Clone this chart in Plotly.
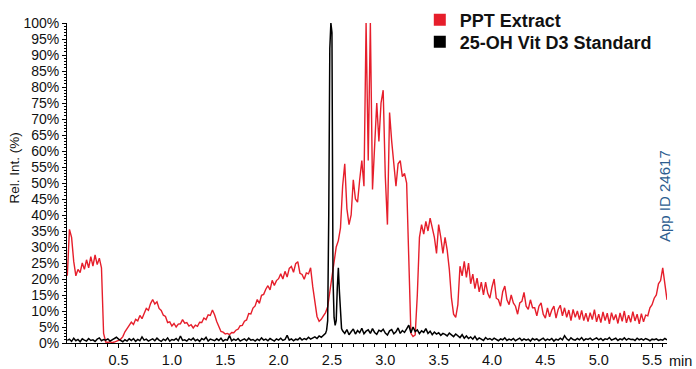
import plotly.graph_objects as go

# ---------------- data ----------------
SAMPLE_STEP = 0.02  # min, acquisition interval

# PPT Extract, relative intensity (%), one value per SAMPLE_STEP from 0.02 to 5.64 min
ppt_extract = [
    21, 35.5, 33, 25.5, 21, 23, 22, 25, 23, 26,
    23.5, 27, 24, 27.5, 24.5, 26.5, 23.5, 3, 0.3, 0.2,
    0.4, 0.1, 0.3, 0.5, 0.8, 1.2, 2, 3.5, 4.7, 5.5,
    6.5, 5.8, 7.4, 6.9, 8.6, 7.6, 9.2, 10.8, 10.2, 12.3,
    13.6, 12.2, 12.9, 10.8, 10.2, 8.7, 8.3, 6.4, 6.6, 5.3,
    6.1, 5.0, 5.9, 6.0, 7.3, 6.2, 6.4, 5.3, 5.7, 4.7,
    5.6, 5.2, 6.5, 6.4, 7.8, 7.3, 8.8, 8.6, 10.3, 8.8,
    6.7, 5.1, 3.6, 3.4, 2.8, 3.0, 2.6, 3.3, 3.2, 4.0,
    4.3, 5.4, 5.5, 6.8, 7.2, 9.2, 9.1, 10.9, 11.6, 13.6,
    12.4, 14.9, 15.2, 16.8, 17.9, 16.6, 19.6, 18.0, 19.5, 20.1,
    21.6, 20.0, 22.4, 20.6, 23.3, 23.9, 22.1, 24.8, 25.4, 21.8,
    21.4, 19.9, 21.9, 21.6, 23.5, 17.6, 12, 8.3, 6.8, 7.4,
    8.5, 9.5, 11.3, 16, 21, 26, 30, 32, 36, 49,
    56, 42, 37, 40, 51, 45, 44, 51, 57, 49,
    100, 57, 100, 48, 62, 75, 63, 75, 79, 52,
    37, 72, 63, 55, 49, 56, 57, 52, 53, 50,
    28, 3, 2, 2.5, 15, 33, 37, 34, 38, 35,
    39, 36, 33, 28, 37, 33, 28, 33, 29, 23,
    14, 9, 8, 12, 24, 21, 25.5, 20.5, 25, 18.5,
    21.5, 17, 20.3, 16, 19, 15, 19, 15.5, 14, 17.5,
    20, 14, 13.5, 11.5, 16, 17.8, 13.5, 12, 15, 12.5,
    11.5, 9, 12.5, 13, 15.8, 11.5, 10.5, 13.5, 11, 11,
    8.5, 11.5, 12.5, 9, 7.8, 11, 8.2, 10.3, 11.5, 7.8,
    10.5, 11.8, 8.5, 11, 8, 10.3, 7, 10.5, 8, 10,
    7.3, 10.2, 7, 9.3, 6.7, 9.5, 7.3, 10.4, 6.6, 9,
    6.4, 9.7, 7, 9.3, 6, 9.5, 7.2, 8.9, 6.1, 9.4,
    6.8, 10, 6.3, 8.7, 6.5, 9.8, 6.9, 9, 6, 9.2,
    6.6, 8.7, 8.5, 11, 12, 14, 15, 18.5, 19.5, 23.5,
    17.5, 13.5,
]

# 25-OH Vit D3 Standard: baseline 0.02-2.44 min, peak 2.45-2.59 min (0.01 step), baseline 2.60-5.64 min
std_early = [
    0.8, 1.2, 0.5, 1.5, 0.7, 1.1, 0.4, 1.3, 0.9, 0.6,
    1.4, 0.8, 1.0, 0.5, 1.2, 1.6, 0.7, 1.1, 0.9, 1.3,
    0.6, 1.0, 1.5, 1.8, 1.2, 0.7, 0.4, 1.0, 0.6, 1.3,
    0.8, 1.4, 0.5, 1.1, 0.7, 1.9, 0.9, 1.2, 0.6, 1.0,
    1.3, 0.7, 1.5, 0.9, 0.5, 1.2, 0.8, 1.6, 0.6, 1.1,
    0.9, 1.4, 0.7, 2.2, 0.8, 1.0, 0.6, 1.3, 0.9, 1.5,
    0.7, 1.1, 0.5, 1.4, 1.0, 1.8, 0.6, 1.2, 0.9, 0.7,
    1.3, 0.8, 1.5, 0.6, 1.1, 0.9, 2.3, 0.7, 1.2, 0.8,
    1.4, 0.6, 1.0, 1.3, 0.7, 1.5, 0.9, 1.1, 0.6, 1.2,
    0.8, 1.6, 0.9, 1.2, 0.7, 1.4, 1.0, 0.6, 1.3, 0.9,
    1.5, 0.8, 1.1, 2.4, 0.9, 1.3, 0.7, 1.2, 1.0, 1.6,
    0.9, 1.4, 1.1, 1.8, 1.2, 1.5, 1.9, 1.4, 2.2, 1.8,
    2.5, 3.0,
]
std_peak_time = [2.45, 2.46, 2.47, 2.48, 2.49, 2.50, 2.51, 2.52, 2.53, 2.54,
                 2.55, 2.56, 2.57, 2.58, 2.59]
std_peak = [4, 7, 40, 92, 100, 97, 20, 8, 5.5, 7, 17, 23.5, 16, 8, 4.5]
std_late = [
    3.8, 3.0, 4.2, 2.6, 3.5, 4.4, 2.8, 3.9, 3.2, 4.6,
    2.9, 3.7, 4.1, 3.0, 4.5, 3.3, 2.7, 4.0, 3.6, 4.3,
    3.1, 2.5, 3.8, 4.2, 2.9, 3.5, 4.7, 3.0, 3.9, 3.3,
    4.4, 5.6, 3.2, 5.0, 3.6, 4.1, 2.9, 3.8, 3.3, 4.5,
    3.0, 3.7, 2.6, 3.4, 2.8, 3.2, 2.4, 3.0, 2.7, 2.2,
    3.1, 2.5, 2.0, 2.8, 2.3, 1.7, 2.6, 1.5, 2.2, 1.4,
    1.9, 1.2, 2.1, 1.0, 1.6, 1.3, 0.8, 1.7, 1.1, 1.4,
    0.9, 1.5, 1.2, 0.7, 1.3, 1.0, 1.6, 0.8, 1.2, 0.9,
    1.4, 0.7, 1.1, 1.5, 0.8, 1.3, 0.9, 1.2, 0.6, 1.4,
    1.0, 1.3, 0.7, 1.1, 1.5, 0.8, 1.2, 0.9, 1.4, 0.6,
    1.2, 0.9, 1.5, 1.0, 2.3, 1.3, 0.8, 1.6, 1.1, 0.9,
    1.4, 1.0, 1.7, 0.8, 1.3, 1.1, 1.5, 0.9, 1.2, 1.6,
    1.0, 1.4, 0.8, 1.3, 1.1, 1.7, 0.9, 1.2, 1.5, 0.8,
    1.3, 1.0, 1.6, 0.9, 1.4, 1.1, 1.2, 0.8, 1.5, 1.0,
    1.3, 0.9, 1.4, 1.1, 0.7, 1.2, 1.0, 1.3, 0.8, 1.1,
    0.9, 1.4, 1.0,
]

y_tick_vals = list(range(0, 101, 5))
y_tick_text = [f"{v}%" for v in y_tick_vals]
x_tick_vals = [0.5, 1.0, 1.5, 2.0, 2.5, 3.0, 3.5, 4.0, 4.5, 5.0, 5.5]
x_tick_text = ["0.5", "1.0", "1.5", "2.0", "2.5", "3.0", "3.5", "4.0", "4.5", "5.0", "5.5"]

series_names = ["PPT Extract", "25-OH Vit D3 Standard"]
series_colors = ["#e61e2b", "#000000"]

# ---------------- assemble time axes ----------------
ppt_time = [round(SAMPLE_STEP * k, 2) for k in range(1, len(ppt_extract) + 1)]
std_time = ([round(SAMPLE_STEP * k, 2) for k in range(1, len(std_early) + 1)]
            + std_peak_time
            + [round(2.60 + SAMPLE_STEP * k, 2) for k in range(len(std_late))])
std_vals = std_early + std_peak + std_late

FONT = "Liberation Sans, Arial, Helvetica, sans-serif"

fig = go.Figure()
fig.add_trace(go.Scatter(x=ppt_time, y=ppt_extract, mode="lines",
                         line=dict(color=series_colors[0], width=1.4),
                         showlegend=False, hoverinfo="skip"))
fig.add_trace(go.Scatter(x=std_time, y=std_vals, mode="lines",
                         line=dict(color=series_colors[1], width=1.5),
                         showlegend=False, hoverinfo="skip"))
# legend entries (square swatches), one legend box per entry
for i, (name, col) in enumerate(zip(series_names, series_colors)):
    fig.add_trace(go.Scatter(x=[None], y=[None], mode="markers", name=name,
                             legend="legend" if i == 0 else "legend2",
                             marker=dict(symbol="square", size=11, color=col)))

legend_common = dict(x=0.588, xanchor="left", yanchor="middle",
                     font=dict(family=FONT, size=18, color="#111111", weight="bold"),
                     bgcolor="rgba(0,0,0,0)", itemsizing="constant")

fig.update_layout(
    width=696, height=369,
    margin=dict(l=67, r=29, t=23, b=25.5, autoexpand=False),
    paper_bgcolor="white", plot_bgcolor="white",
    font=dict(family=FONT, size=14, color="#111111"),
    legend=dict(y=1.0094, **legend_common),
    legend2=dict(y=0.9407, **legend_common),
    xaxis=dict(range=[0.017, 5.64], showgrid=False, zeroline=False,
               showline=True, linecolor="black", linewidth=1,
               tickmode="array", tickvals=x_tick_vals, ticktext=x_tick_text,
               ticks="outside", ticklen=4, tickcolor="black", tickwidth=1,
               minor=dict(dtick=0.1, ticks="outside", ticklen=2.5, tickcolor="black"),
               tickfont=dict(size=14.5)),
    yaxis=dict(range=[0, 100], showgrid=False, zeroline=False,
               showline=True, linecolor="black", linewidth=1,
               tickmode="array", tickvals=y_tick_vals, ticktext=y_tick_text,
               ticks="outside", ticklen=4, tickcolor="black", tickwidth=1,
               minor=dict(dtick=1, ticks="outside", ticklen=2.5, tickcolor="black"),
               tickfont=dict(size=14)),
    annotations=[
        dict(text="Rel. Int. (%)", xref="paper", yref="paper",
             x=-0.087, y=0.548, textangle=-90, showarrow=False,
             xanchor="center", yanchor="middle", font=dict(size=13.5)),
        dict(text="min", xref="paper", yref="paper", x=1.0217, y=-0.0577,
             showarrow=False, xanchor="center", yanchor="middle",
             font=dict(size=14.5)),
        dict(text="App ID 24617", xref="paper", yref="paper", x=0.997, y=0.46,
             textangle=-90, showarrow=False, xanchor="center", yanchor="middle",
             font=dict(size=15, color="#2c5d8f")),
    ],
)

fig.write_html("out.html")
